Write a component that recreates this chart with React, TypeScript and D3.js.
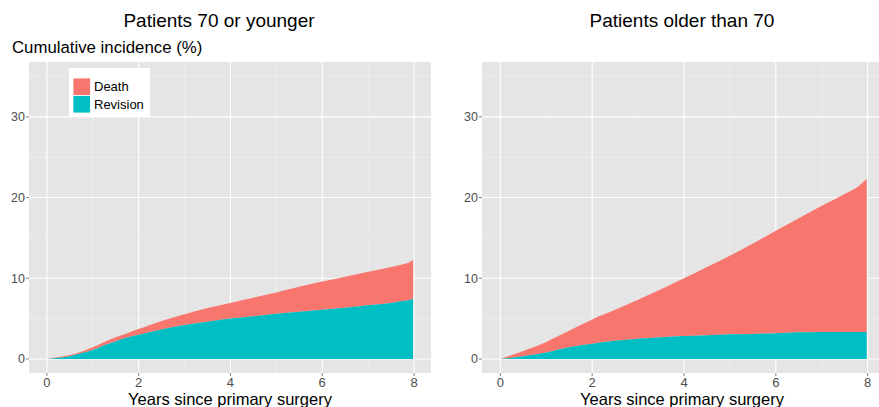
import React from "react";
import * as d3 from "d3";

const years = [0, 0.25, 0.5, 0.75, 1, 1.25, 1.5, 1.75, 2, 2.5, 3, 3.5, 4, 4.5, 5, 5.5, 6, 6.5, 7, 7.5, 7.8, 7.9, 7.98];

// Patients 70 or younger (cumulative %)
const youngRevision = [0, 0.15, 0.35, 0.7, 1.1, 1.7, 2.2, 2.65, 3.0, 3.65, 4.2, 4.6, 5.0, 5.3, 5.6, 5.85, 6.1, 6.35, 6.65, 6.95, 7.2, 7.3, 7.5];
const youngTotal = [0, 0.25, 0.5, 0.9, 1.45, 2.1, 2.7, 3.2, 3.7, 4.7, 5.55, 6.3, 6.95, 7.6, 8.25, 8.95, 9.6, 10.2, 10.8, 11.4, 11.8, 12.0, 12.3];

// Patients older than 70 (cumulative %)
const oldRevision = [0, 0.15, 0.35, 0.55, 0.8, 1.15, 1.45, 1.7, 1.9, 2.25, 2.5, 2.7, 2.85, 2.95, 3.05, 3.1, 3.2, 3.3, 3.35, 3.35, 3.35, 3.35, 3.35];
const oldTotal = [0, 0.5, 1.0, 1.5, 2.1, 2.8, 3.5, 4.2, 4.9, 6.1, 7.35, 8.65, 10.0, 11.4, 12.8, 14.3, 15.9, 17.45, 19.0, 20.45, 21.4, 21.9, 22.3];

const xTicks = [0, 2, 4, 6, 8];
const xMinor = [1, 3, 5, 7];
const yTicks = [0, 10, 20, 30];
const yMinor = [5, 15, 25, 35];
const legendLabels = ["Death", "Revision"];
const titles = ["Patients 70 or younger", "Patients older than 70"];
const yTitle = "Cumulative incidence (%)";
const xTitle = "Years since primary surgery";

const DEATH = "#F8766D";
const REV = "#00BFC4";
const FONT = "'Liberation Sans', Arial, Helvetica, sans-serif";

type PanelProps = {
  left: number;
  right: number;
  xDom: [number, number];
  rev: number[];
  tot: number[];
  title: string;
  titleX: number;
  xTitleX: number;
};

const TOP = 62;
const BOTTOM = 373;

function Panel({ left, right, xDom, rev, tot, title, titleX, xTitleX }: PanelProps) {
  const x = d3.scaleLinear().domain(xDom).range([left, right]);
  const y = d3.scaleLinear().domain([-1.74, 36.8]).range([BOTTOM, TOP]);
  const idx = years.map((_, i) => i);
  const revArea = d3
    .area<number>()
    .curve(d3.curveMonotoneX)
    .x((i) => x(years[i]))
    .y0(() => y(0))
    .y1((i) => y(rev[i]));
  const deathArea = d3
    .area<number>()
    .curve(d3.curveMonotoneX)
    .x((i) => x(years[i]))
    .y0((i) => y(rev[i]))
    .y1((i) => y(tot[i]));
  return (
    <g>
      <rect x={left} y={TOP} width={right - left} height={BOTTOM - TOP} fill="#E5E5E5" />
      {yMinor.map((v) => (
        <line key={"ym" + v} x1={left} x2={right} y1={y(v)} y2={y(v)} stroke="#F2F2F2" strokeWidth={0.6} />
      ))}
      {xMinor.map((v) => (
        <line key={"xm" + v} x1={x(v)} x2={x(v)} y1={TOP} y2={BOTTOM} stroke="#F2F2F2" strokeWidth={0.6} />
      ))}
      {yTicks.map((v) => (
        <line key={"yM" + v} x1={left} x2={right} y1={y(v)} y2={y(v)} stroke="#FFFFFF" strokeWidth={1.1} />
      ))}
      {xTicks.map((v) => (
        <line key={"xM" + v} x1={x(v)} x2={x(v)} y1={TOP} y2={BOTTOM} stroke="#FFFFFF" strokeWidth={1.1} />
      ))}
      <path d={deathArea(idx) || ""} fill={DEATH} />
      <path d={revArea(idx) || ""} fill={REV} />
      {yTicks.map((v) => (
        <g key={"yt" + v}>
          <line x1={left - 3} x2={left} y1={y(v)} y2={y(v)} stroke="#7F7F7F" strokeWidth={1} />
          <text x={left - 4} y={y(v)} dy="0.35em" textAnchor="end" fontSize={12.5} fill="#4D4D4D" fontFamily={FONT}>
            {v}
          </text>
        </g>
      ))}
      {xTicks.map((v) => (
        <g key={"xt" + v}>
          <line x1={x(v)} x2={x(v)} y1={BOTTOM} y2={BOTTOM + 3} stroke="#7F7F7F" strokeWidth={1} />
          <text x={x(v)} y={387} textAnchor="middle" fontSize={13} fill="#4D4D4D" fontFamily={FONT}>
            {v}
          </text>
        </g>
      ))}
      <text x={titleX} y={27} textAnchor="middle" fontSize={19} fill="#000" fontFamily={FONT}>
        {title}
      </text>
      <text x={xTitleX} y={405} textAnchor="middle" fontSize={16.5} fill="#000" fontFamily={FONT}>
        {xTitle}
      </text>
    </g>
  );
}

export default function App() {
  return (
    <svg
      width={879}
      height={407}
      style={{ position: "absolute", left: 0, top: 0, display: "block", background: "#fff" }}
    >
      <rect x={0} y={0} width={879} height={407} fill="#fff" />
      <Panel left={29} right={431} xDom={[-0.39, 8.37]} rev={youngRevision} tot={youngTotal} title={titles[0]} titleX={219} xTitleX={230} />
      <Panel left={482} right={886} xDom={[-0.4, 8.4]} rev={oldRevision} tot={oldTotal} title={titles[1]} titleX={682} xTitleX={682} />
      <text x={12} y={53} fontSize={16.8} fill="#000" fontFamily={FONT}>
        {yTitle}
      </text>
      <g>
        <rect x={69} y={68} width={81} height={49} fill="#fff" />
        {legendLabels.map((l, i) => (
          <g key={l}>
            <rect x={73} y={78 + i * 17.5} width={17.5} height={17.5} fill={i === 0 ? DEATH : REV} stroke="#fff" strokeWidth={0.8} />
            <text x={94} y={78 + i * 17.5 + 13} fontSize={13} fill="#000" fontFamily={FONT}>
              {l}
            </text>
          </g>
        ))}
      </g>
    </svg>
  );
}
